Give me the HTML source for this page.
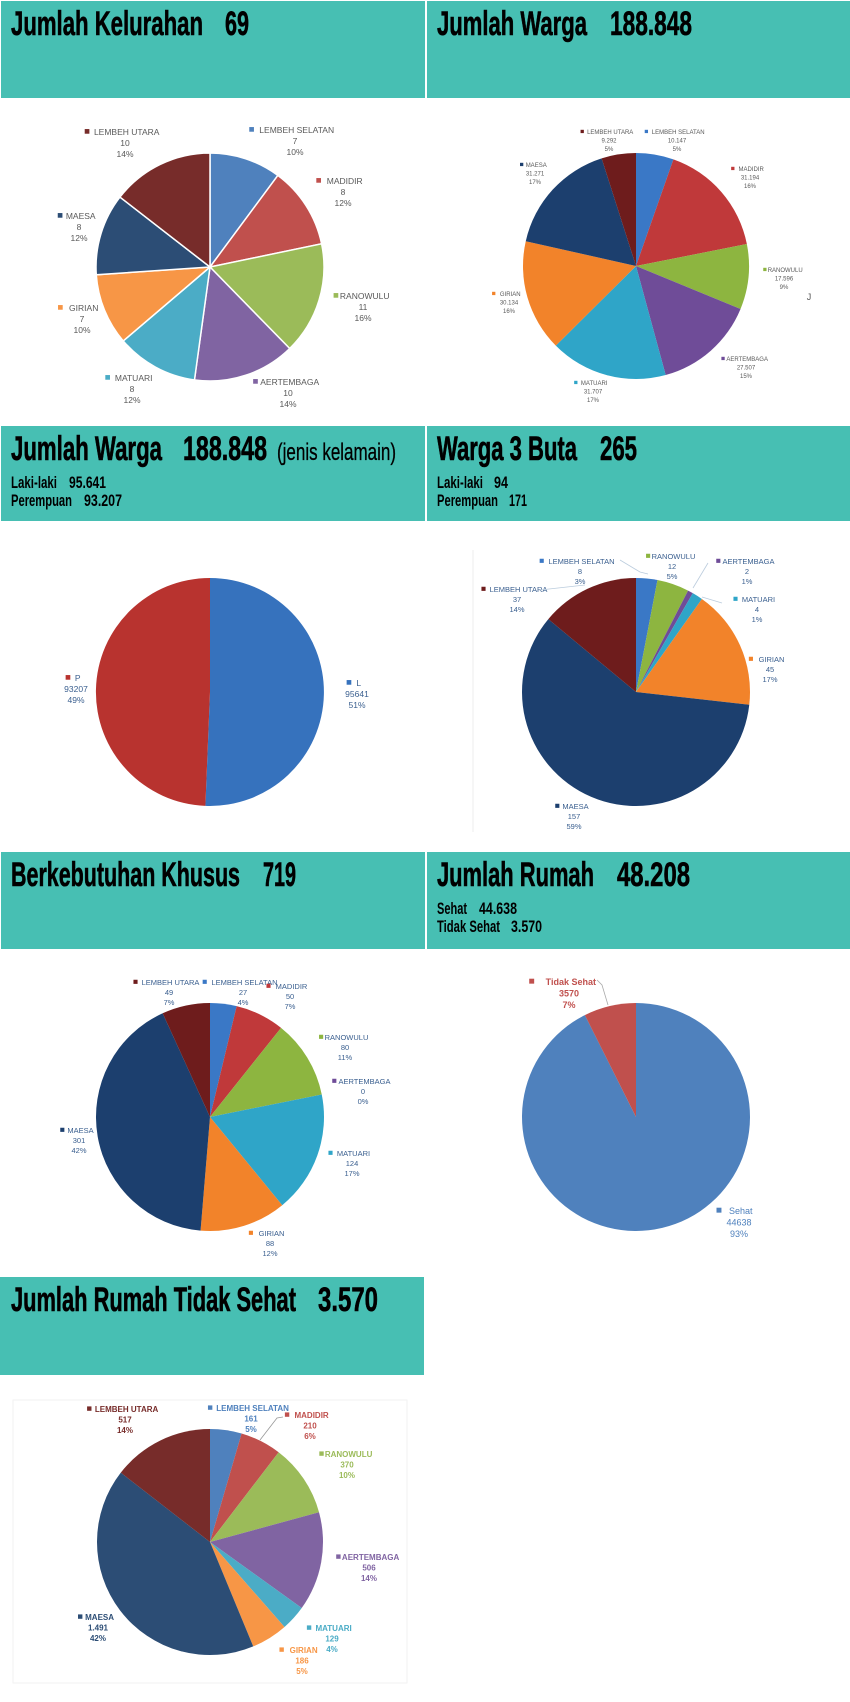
<!DOCTYPE html>
<html><head><meta charset="utf-8">
<style>
html,body{margin:0;padding:0;background:#fff;}
svg{display:block;}
.t{font-family:"Liberation Sans",sans-serif;font-weight:bold;fill:#000;}
.l{font-family:"Liberation Sans",sans-serif;fill:#595959;text-anchor:middle;}
</style></head>
<body>
<svg id="s" width="850" height="1702" viewBox="0 0 850 1702" xmlns="http://www.w3.org/2000/svg">
<rect x="0" y="0" width="850" height="1702" fill="#fff"/>
<rect x="1" y="1" width="424" height="97" fill="#47bfb3"/>
<rect x="427" y="1" width="423" height="97" fill="#47bfb3"/>
<rect x="1" y="426" width="424" height="95" fill="#47bfb3"/>
<rect x="427" y="426" width="423" height="95" fill="#47bfb3"/>
<rect x="1" y="852" width="424" height="97" fill="#47bfb3"/>
<rect x="427" y="852" width="423" height="97" fill="#47bfb3"/>
<rect x="0" y="1277" width="424" height="98" fill="#47bfb3"/>

<g class="t" font-size="34" stroke="#000" stroke-width="0.6">
<text x="11" y="35" textLength="192" lengthAdjust="spacingAndGlyphs">Jumlah Kelurahan</text>
<text x="225" y="35" textLength="24" lengthAdjust="spacingAndGlyphs">69</text>
<text x="437" y="35" textLength="150" lengthAdjust="spacingAndGlyphs">Jumlah Warga</text>
<text x="610" y="35" textLength="82" lengthAdjust="spacingAndGlyphs">188.848</text>
<text x="11" y="460" textLength="151" lengthAdjust="spacingAndGlyphs">Jumlah Warga</text>
<text x="183" y="460" textLength="84" lengthAdjust="spacingAndGlyphs">188.848</text>
<text x="277" y="460" font-size="24" font-weight="normal" stroke-width="0.3" textLength="119" lengthAdjust="spacingAndGlyphs">(jenis kelamain)</text>
<text x="437" y="460" textLength="140" lengthAdjust="spacingAndGlyphs">Warga 3 Buta</text>
<text x="600" y="460" textLength="37" lengthAdjust="spacingAndGlyphs">265</text>
<text x="11" y="886" textLength="229" lengthAdjust="spacingAndGlyphs">Berkebutuhan Khusus</text>
<text x="263" y="886" textLength="33" lengthAdjust="spacingAndGlyphs">719</text>
<text x="437" y="886" textLength="157" lengthAdjust="spacingAndGlyphs">Jumlah Rumah</text>
<text x="617" y="886" textLength="73" lengthAdjust="spacingAndGlyphs">48.208</text>
<text x="11" y="1311" textLength="285" lengthAdjust="spacingAndGlyphs">Jumlah Rumah Tidak Sehat</text>
<text x="318" y="1311" textLength="60" lengthAdjust="spacingAndGlyphs">3.570</text>
</g>
<g class="t" font-size="17">
<text x="11" y="488" textLength="46" lengthAdjust="spacingAndGlyphs">Laki-laki</text>
<text x="69" y="488" textLength="37" lengthAdjust="spacingAndGlyphs">95.641</text>
<text x="11" y="506" textLength="61" lengthAdjust="spacingAndGlyphs">Perempuan</text>
<text x="84" y="506" textLength="38" lengthAdjust="spacingAndGlyphs">93.207</text>
<text x="437" y="488" textLength="46" lengthAdjust="spacingAndGlyphs">Laki-laki</text>
<text x="494" y="488" textLength="14" lengthAdjust="spacingAndGlyphs">94</text>
<text x="437" y="506" textLength="61" lengthAdjust="spacingAndGlyphs">Perempuan</text>
<text x="509" y="506" textLength="18" lengthAdjust="spacingAndGlyphs">171</text>
<text x="437" y="914" textLength="30" lengthAdjust="spacingAndGlyphs">Sehat</text>
<text x="479" y="914" textLength="38" lengthAdjust="spacingAndGlyphs">44.638</text>
<text x="437" y="932" textLength="63" lengthAdjust="spacingAndGlyphs">Tidak Sehat</text>
<text x="511" y="932" textLength="31" lengthAdjust="spacingAndGlyphs">3.570</text>
</g>
<line x1="473" y1="550" x2="473" y2="832" stroke="#eee" stroke-width="1"/>
<rect x="13" y="1400" width="394" height="283" fill="none" stroke="#f2f2f2" stroke-width="1"/>
<g id="pies"></g>
<g id="labels"></g>
</svg>
<script>
var C={LS:"#4f81bd",MAD:"#c0504d",RAN:"#9bbb59",AER:"#8064a2",MAT:"#4bacc6",GIR:"#f79646",MAE:"#2c4d75",LU:"#772c2a"};
var D={LS:"#3a78c6",MAD:"#c0393a",RAN:"#8db540",AER:"#6f4c98",MAT:"#2fa5c8",GIR:"#f2832a",MAE:"#1c3f6e",LU:"#6e1c1c"};
function pie(cx,cy,r,vals,cols,stroke){
  var tot=vals.reduce(function(a,b){return a+b},0),a=0,out="";
  for(var i=0;i<vals.length;i++){
    if(vals[i]<=0)continue;
    var a2=a+vals[i]/tot*2*Math.PI;
    var x1=cx+r*Math.sin(a),y1=cy-r*Math.cos(a),x2=cx+r*Math.sin(a2),y2=cy-r*Math.cos(a2);
    var lg=(a2-a)>Math.PI?1:0;
    out+='<path d="M'+cx+','+cy+' L'+x1.toFixed(2)+','+y1.toFixed(2)+' A'+r+','+r+' 0 '+lg+' 1 '+x2.toFixed(2)+','+y2.toFixed(2)+' Z" fill="'+cols[i]+'"'+(stroke?' stroke="#fff" stroke-width="1.5"':'')+'/>';
    a=a2;
  }
  return out;
}
var P="";
P+=pie(210,267,114,[7,8,11,10,8,7,8,10],[C.LS,C.MAD,C.RAN,C.AER,C.MAT,C.GIR,C.MAE,C.LU],true);
P+=pie(636,266,113,[10147,31194,17596,27507,31707,30154,31271,9292],[D.LS,D.MAD,D.RAN,D.AER,D.MAT,D.GIR,D.MAE,D.LU]);
P+=pie(210,692,114,[95641,93207],["#3672bd","#b8332f"]);
P+=pie(636,692,114,[8,12,2,4,45,157,37],[D.LS,D.RAN,D.AER,D.MAT,D.GIR,D.MAE,D.LU]);
P+=pie(210,1117,114,[27,50,80,0,124,88,301,49],[D.LS,D.MAD,D.RAN,D.AER,D.MAT,D.GIR,D.MAE,D.LU]);
P+=pie(636,1117,114,[44638,3570],["#4f81bd","#c0504d"]);
P+=pie(210,1542,113,[161,210,370,506,129,186,1491,517],[C.LS,C.MAD,C.RAN,C.AER,C.MAT,C.GIR,C.MAE,C.LU]);
document.getElementById("pies").innerHTML=P;
var L="";
function lab(cx,y,lines,col,fs,sp,bold,tc){
  var w=lines[0].length*fs*0.64;
  L+='<rect x="'+(cx-w/2-fs*0.9)+'" y="'+(y-fs*0.7)+'" width="'+(fs*0.55)+'" height="'+(fs*0.55)+'" fill="'+col+'"/>';
  for(var i=0;i<lines.length;i++)
    L+='<text class="l" x="'+(cx+(i==0?fs*0.2:0))+'" y="'+(y+i*sp)+'" font-size="'+fs+'"'+(bold?' font-weight="bold"':'')+(tc?' style="fill:'+tc+'"':'')+'>'+lines[i]+'</text>';
}
var f=8.5,s=11;
lab(125,135,["LEMBEH UTARA","10","14%"],C.LU,f,s);
lab(295,133,["LEMBEH SELATAN","7","10%"],C.LS,f,s);
lab(343,184,["MADIDIR","8","12%"],C.MAD,f,s);
lab(79,219,["MAESA","8","12%"],C.MAE,f,s);
lab(363,299,["RANOWULU","11","16%"],C.RAN,f,s);
lab(82,311,["GIRIAN","7","10%"],C.GIR,f,s);
lab(132,381,["MATUARI","8","12%"],C.MAT,f,s);
lab(288,385,["AERTEMBAGA","10","14%"],C.AER,f,s);
f=6;s=8.5;
lab(609,134,["LEMBEH UTARA","9.292","5%"],D.LU,f,s);
lab(677,134,["LEMBEH SELATAN","10.147","5%"],D.LS,f,s);
lab(750,171,["MADIDIR","31.194","16%"],D.MAD,f,s);
lab(535,167,["MAESA","31.271","17%"],D.MAE,f,s);
lab(784,272,["RANOWULU","17.596","9%"],D.RAN,f,s);
lab(509,296,["GIRIAN","30.134","16%"],D.GIR,f,s);
lab(746,361,["AERTEMBAGA","27.507","15%"],D.AER,f,s);
lab(593,385,["MATUARI","31.707","17%"],D.MAT,f,s);
L+='<text class="l" x="809" y="300" font-size="9">J</text>';
f=8.5;s=11;
lab(76,681,["P","93207","49%"],"#b8332f",f,s,false,"#3a5f8f");
lab(357,686,["L","95641","51%"],"#3672bd",f,s,false,"#3a5f8f");
f=7.5;s=10;
lab(580,564,["LEMBEH SELATAN","8","3%"],D.LS,f,s,false,"#3a5f8f");
lab(672,559,["RANOWULU","12","5%"],D.RAN,f,s,false,"#3a5f8f");
lab(747,564,["AERTEMBAGA","2","1%"],D.AER,f,s,false,"#3a5f8f");
lab(517,592,["LEMBEH UTARA","37","14%"],D.LU,f,s,false,"#3a5f8f");
lab(757,602,["MATUARI","4","1%"],D.MAT,f,s,false,"#3a5f8f");
lab(770,662,["GIRIAN","45","17%"],D.GIR,f,s,false,"#3a5f8f");
lab(574,809,["MAESA","157","59%"],D.MAE,f,s,false,"#3a5f8f");
L+='<polyline points="620,560 640,572 648,574" fill="none" stroke="#bcd" stroke-width="0.8"/>';
L+='<polyline points="540,590 585,585" fill="none" stroke="#bcd" stroke-width="0.8"/>';
L+='<polyline points="708,563 693,588" fill="none" stroke="#bcd" stroke-width="0.8"/>';
L+='<polyline points="702,597 722,603" fill="none" stroke="#bcd" stroke-width="0.8"/>';
lab(169,985,["LEMBEH UTARA","49","7%"],D.LU,f,s,false,"#3a5f8f");
lab(243,985,["LEMBEH SELATAN","27","4%"],D.LS,f,s,false,"#3a5f8f");
lab(290,989,["MADIDIR","50","7%"],D.MAD,f,s,false,"#3a5f8f");
lab(345,1040,["RANOWULU","80","11%"],D.RAN,f,s,false,"#3a5f8f");
lab(363,1084,["AERTEMBAGA","0","0%"],D.AER,f,s,false,"#3a5f8f");
lab(352,1156,["MATUARI","124","17%"],D.MAT,f,s,false,"#3a5f8f");
lab(270,1236,["GIRIAN","88","12%"],D.GIR,f,s,false,"#3a5f8f");
lab(79,1133,["MAESA","301","42%"],D.MAE,f,s,false,"#3a5f8f");
f=9;s=11.5;
lab(569,985,["Tidak Sehat","3570","7%"],"#c0504d",f,s,true,"#c0504d");
lab(739,1214,["Sehat","44638","93%"],"#4f81bd",f,s,false,"#4f81bd");
L+='<polyline points="597,980 602,985 608,1005" fill="none" stroke="#aaa" stroke-width="0.8"/>';
f=8;s=10.5;
lab(125,1412,["LEMBEH UTARA","517","14%"],C.LU,f,s,true,C.LU);
lab(251,1411,["LEMBEH SELATAN","161","5%"],C.LS,f,s,true,C.LS);
lab(310,1418,["MADIDIR","210","6%"],C.MAD,f,s,true,C.MAD);
lab(347,1457,["RANOWULU","370","10%"],C.RAN,f,s,true,C.RAN);
lab(369,1560,["AERTEMBAGA","506","14%"],C.AER,f,s,true,C.AER);
lab(332,1631,["MATUARI","129","4%"],C.MAT,f,s,true,C.MAT);
lab(302,1653,["GIRIAN","186","5%"],C.GIR,f,s,true,C.GIR);
lab(98,1620,["MAESA","1.491","42%"],C.MAE,f,s,true,C.MAE);
L+='<polyline points="283,1417 277,1418 260,1440" fill="none" stroke="#999" stroke-width="0.8"/>';
document.getElementById("labels").innerHTML=L;
</script>
</body></html>
